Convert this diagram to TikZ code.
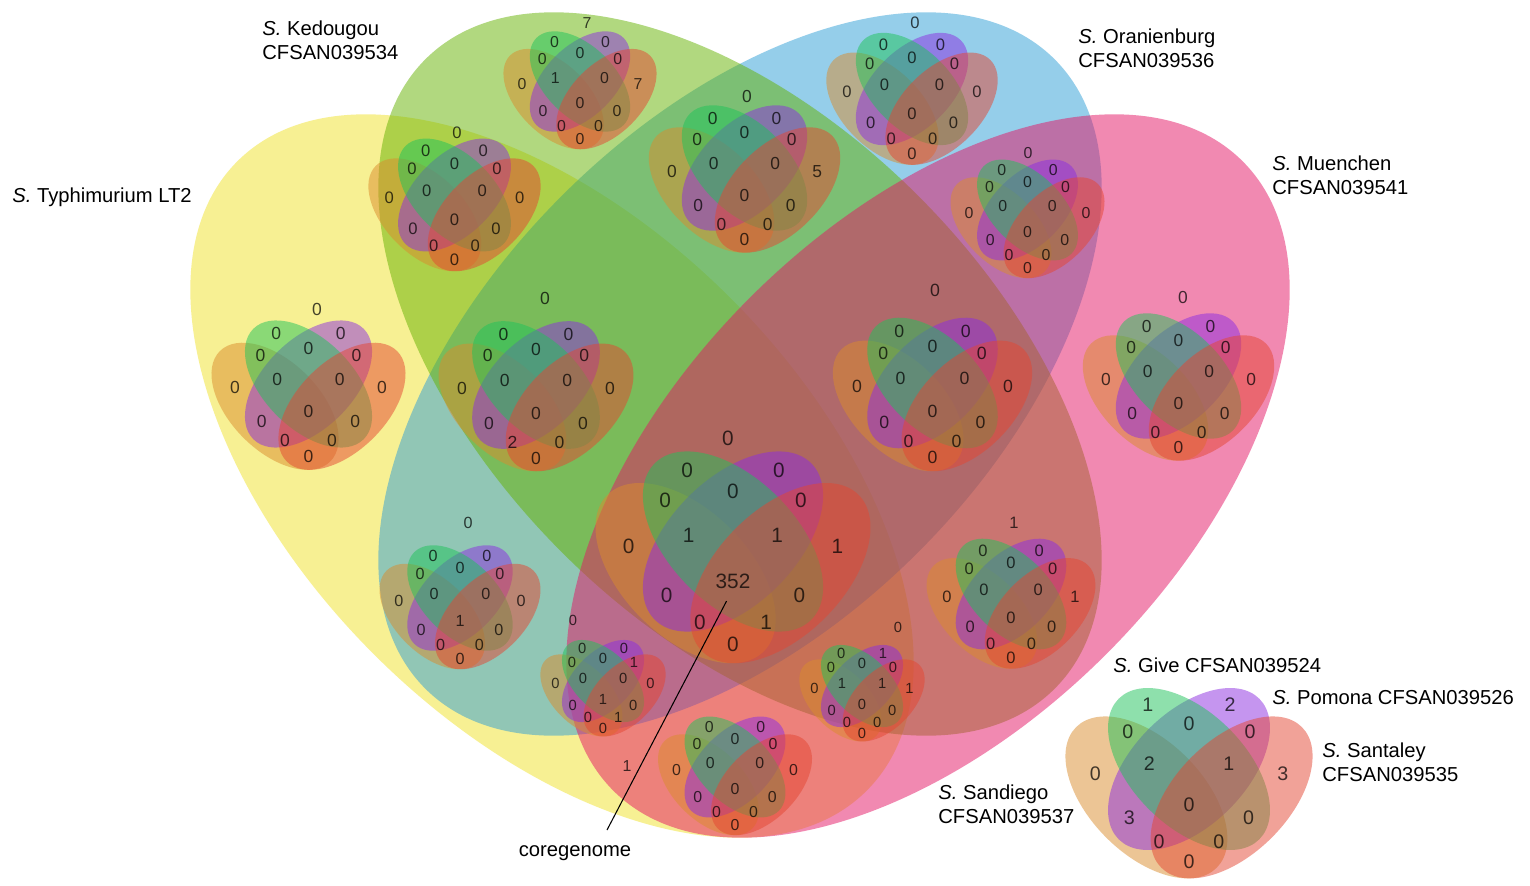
\documentclass[tikz,border=0pt]{standalone}
\usepackage{fontspec}
\setmainfont{Liberation Sans}
\usepackage{tikz}
\usetikzlibrary{calc}
\definecolor{typhiyellow}{RGB}{240,226,40}
\definecolor{kedougreen}{RGB}{100,178,0}
\definecolor{oranblue}{RGB}{45,158,215}
\definecolor{muenpink}{RGB}{228,20,100}
\definecolor{sandorange}{RGB}{218,140,45}
\definecolor{givegreen}{RGB}{30,195,90}
\definecolor{pomopurple}{RGB}{140,45,225}
\definecolor{santred}{RGB}{228,70,50}

% small four-set venn: name, x, y, size, counts, outside pos, outside count
\newcommand{\minivenn}[7]{%
  \pgfmathsetmacro{\vu}{#4*0.02}
  \pgfmathsetmacro{\vf}{5.5+0.02*#4}
  \begin{scope}[shift={(#2,#3)}, x=\vu cm, y=-\vu cm]
    \fill[setO, rotate around={-45:(-0.15,0.1)}] (-0.15,0.1) ellipse [x radius=0.35, y radius=0.2];
    \fill[setP, rotate=45] (0,0) ellipse [x radius=0.35, y radius=0.2];
    \fill[setG, rotate=-45] (0,0) ellipse [x radius=0.35, y radius=0.2];
    \fill[setR, rotate around={45:(0.15,0.1)}] (0.15,0.1) ellipse [x radius=0.35, y radius=0.2];
    \foreach \n [count=\i] in {#5} {
      \pgfmathsetmacro{\cu}{{-0.145,0.145,0,-0.215,0.215,-0.33,-0.14,0.14,0.33,0,-0.21,0.21,-0.105,0.105,0}[\i-1]}
      \pgfmathsetmacro{\cw}{{-0.225,-0.225,-0.16,-0.13,-0.13,0.015,-0.02,-0.02,0.015,0.125,0.17,0.17,0.255,0.255,0.327}[\i-1]}
      \node[cnt, font=\fontsize{\vf}{\vf}\selectfont] (#1-\i) at (\cu,\cw) {\n};
    }
  \end{scope}
  \if\relax\detokenize{#7}\relax\else
    \node[cnt, font=\fontsize{\vf}{\vf}\selectfont] (#1-0) at (#6) {#7};
  \fi
}

\begin{document}
\begin{tikzpicture}[
  x=0.02cm, y=-0.02cm,
  bigset/.style={fill opacity=0.5},
  setO/.style={fill=sandorange, fill opacity=0.5},
  setG/.style={fill=givegreen, fill opacity=0.5},
  setP/.style={fill=pomopurple, fill opacity=0.5},
  setR/.style={fill=santred, fill opacity=0.5},
  cnt/.style={inner sep=0pt, text=black, text opacity=0.72},
  strain/.style={font=\fontsize{11.5}{13.6}\selectfont, align=left, anchor=west, inner sep=0pt},
  leader/.style={line width=0.6pt, black}
]
\fill[white] (0,0) rectangle (1530,885);
\useasboundingbox (0,0) rectangle (1530,885);

% the four big sets
\fill[bigset, fill=typhiyellow, rotate around={-45:(552,476)}] (552,476) ellipse [x radius=445, y radius=252];
\fill[bigset, fill=oranblue, rotate around={45:(740,374)}] (740,374) ellipse [x radius=445, y radius=252];
\fill[bigset, fill=kedougreen, rotate around={-45:(740,374)}] (740,374) ellipse [x radius=445, y radius=252];
\fill[bigset, fill=muenpink, rotate around={45:(928,476)}] (928,476) ellipse [x radius=445, y radius=252];

% one small venn per region
\minivenn{v1}{580}{81.5}{176}{0,0,0,0,0,0,1,0,7,0,0,0,0,0,0}{587,23}{7}
\minivenn{v2}{744.5}{168}{220}{0,0,0,0,0,0,0,0,5,0,0,0,0,0,0}{747,97}{0}
\minivenn{v3}{912}{89}{197}{0,0,0,0,0,0,0,0,0,0,0,0,0,0,0}{915,23}{0}
\minivenn{v4}{454.5}{195}{198}{0,0,0,0,0,0,0,0,0,0,0,0,0,0,0}{457,133}{0}
\minivenn{v5}{1027.5}{210}{177}{0,0,0,0,0,0,0,0,0,0,0,0,0,0,0}{1028,153}{0}
\minivenn{v6}{308.5}{384}{223}{0,0,0,0,0,0,0,0,0,0,0,0,0,0,0}{317,309}{0}
\minivenn{v7}{536}{385}{224}{0,0,0,0,0,0,0,0,0,0,0,0,2,0,0}{545,298}{0}
\minivenn{v8}{932.5}{383}{229}{0,0,0,0,0,0,0,0,0,0,0,0,0,0,0}{935,290}{0}
\minivenn{v9}{1178.5}{376}{220}{0,0,0,0,0,0,0,0,0,0,0,0,0,0,0}{1183,298}{0}
\minivenn{v10}{733}{541.5}{316}{0,0,0,0,0,0,1,1,1,352,0,0,0,1,0}{728,438}{0}
\minivenn{v11}{460}{598}{185}{0,0,0,0,0,0,0,0,0,1,0,0,0,0,0}{468,523}{0}
\minivenn{v12}{1011}{594}{194}{0,0,0,0,0,0,0,0,1,0,0,0,0,0,0}{1014,523}{1}
\minivenn{v13}{603}{681}{144}{0,0,0,0,1,0,0,0,0,1,0,0,0,1,0}{573,620}{0}
\minivenn{v14}{862}{686}{144}{0,1,0,0,0,0,1,1,1,0,0,0,0,0,0}{898,627}{0}
\minivenn{v15}{735}{767}{177}{0,0,0,0,0,0,0,0,0,0,0,0,0,0,0}{627,766}{1}

% legend venn
\minivenn{key}{1189}{769}{284}{1,2,0,0,0,0,2,1,3,0,3,0,0,0,0}{0,0}{}

% set names
\node[strain] (typhi) at (12,197) {\textit{S.} Typhimurium LT2};
\node[strain] (kedou) at (262,40) {\textit{S.} Kedougou\\CFSAN039534};
\node[strain] (orani) at (1078,48) {\textit{S.} Oranienburg\\CFSAN039536};
\node[strain] (muenc) at (1272,175) {\textit{S.} Muenchen\\CFSAN039541};
\node[strain] (give) at (1113,665) {\textit{S.} Give CFSAN039524};
\node[strain] (pomona) at (1272,698) {\textit{S.} Pomona CFSAN039526};
\node[strain] (santa) at (1322,762) {\textit{S.} Santaley\\CFSAN039535};
\node[strain] (sandi) at (938,804) {\textit{S.} Sandiego\\CFSAN039537};

\node[strain, anchor=center] (core) at (575,853) {coregenome};
\coordinate (coretip) at (607,830);
\draw[leader, shorten <=0.28cm] (v10-10.south) -- (coretip);

\end{tikzpicture}
\end{document}
